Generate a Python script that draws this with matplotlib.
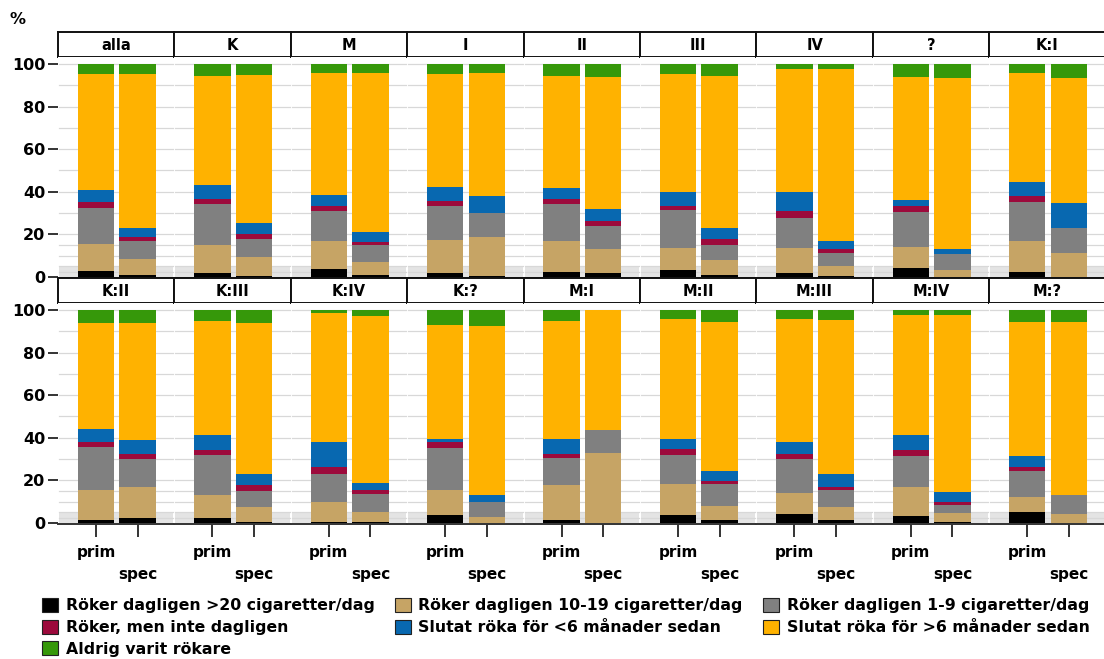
import matplotlib

matplotlib.use("Agg")
import matplotlib.pyplot as plt
import numpy as np
from matplotlib.patches import Patch

# ---------------------------------------------------------------------------
# Data (percent shares per bar, bottom to top)
# ---------------------------------------------------------------------------

panels = ["alla", "K", "M", "I", "II", "III", "IV", "?", "K:I",
          "K:II", "K:III", "K:IV", "K:?", "M:I", "M:II", "M:III", "M:IV", "M:?"]
groups = ["prim", "spec"]

categories = [
    "Röker dagligen >20 cigaretter/dag",
    "Röker dagligen 10-19 cigaretter/dag",
    "Röker dagligen 1-9 cigaretter/dag",
    "Röker, men inte dagligen",
    "Slutat röka för <6 månader sedan",
    "Slutat röka för >6 månader sedan",
    "Aldrig varit rökare",
]
colors = ["#000000", "#c6a465", "#808080", "#9c0a3c", "#0868b0", "#ffb200", "#36980a"]

# one row per panel: [prim, spec], each a list in category order
shares = {
    "alla":  [[2.8, 12.9, 16.9, 2.8, 5.6, 54.3, 4.7], [1.0, 7.5, 8.4, 1.9, 4.4, 72.1, 4.7]],
    "K":     [[1.9, 13.0, 19.3, 2.3, 6.6, 51.3, 5.6], [0.6, 8.8, 8.6, 2.4, 5.0, 69.3, 5.3]],
    "M":     [[3.8, 13.1, 14.1, 2.4, 5.3, 57.2, 4.1], [1.1, 6.0, 7.8, 1.6, 4.7, 74.7, 4.1]],
    "I":     [[2.0, 15.2, 16.0, 2.4, 6.7, 53.0, 4.7], [0.4, 18.4, 11.3, 0.0, 7.8, 57.7, 4.4]],
    "II":    [[2.4, 14.5, 17.3, 2.3, 5.5, 52.5, 5.5], [1.9, 11.0, 11.2, 2.1, 5.8, 62.0, 6.0]],
    "III":   [[3.1, 10.7, 17.5, 2.2, 6.2, 55.6, 4.7], [0.8, 7.0, 7.4, 2.4, 5.3, 71.5, 5.6]],
    "IV":    [[1.9, 11.9, 14.1, 3.0, 8.8, 57.9, 2.4], [0.6, 4.4, 6.4, 1.8, 3.7, 80.7, 2.4]],
    "?":     [[4.2, 9.9, 16.6, 2.7, 2.6, 57.7, 6.3], [0.2, 3.2, 7.3, 0.0, 2.5, 80.4, 6.4]],
    "K:I":   [[2.4, 14.5, 18.1, 2.9, 6.8, 50.9, 4.4], [0.0, 11.3, 11.6, 0.0, 11.9, 58.8, 6.4]],
    "K:II":  [[1.6, 13.9, 20.1, 2.4, 6.1, 49.9, 6.0], [2.4, 14.7, 12.9, 2.3, 6.8, 54.9, 6.0]],
    "K:III": [[2.4, 10.9, 18.7, 2.1, 7.3, 53.4, 5.2], [0.3, 7.4, 7.1, 2.8, 5.2, 70.9, 6.3]],
    "K:IV":  [[0.3, 9.4, 13.4, 3.1, 11.8, 60.4, 1.6], [0.3, 4.7, 8.7, 2.0, 3.1, 78.5, 2.7]],
    "K:?":   [[3.5, 12.0, 19.7, 2.8, 1.6, 53.6, 6.8], [0.0, 2.7, 7.0, 0.0, 3.5, 79.4, 7.4]],
    "M:I":   [[1.4, 16.2, 12.9, 1.7, 7.4, 55.4, 5.0], [0.0, 32.8, 11.0, 0.0, 0.0, 56.2, 0.0]],
    "M:II":  [[3.8, 14.6, 13.6, 2.5, 5.1, 56.0, 4.4], [1.6, 6.4, 10.1, 1.5, 5.0, 69.6, 5.8]],
    "M:III": [[4.2, 9.8, 16.1, 2.4, 5.5, 57.6, 4.4], [1.4, 6.0, 8.3, 1.1, 6.3, 72.2, 4.7]],
    "M:IV":  [[3.1, 13.7, 14.6, 3.0, 6.7, 56.5, 2.4], [0.3, 4.3, 3.9, 1.2, 4.7, 83.2, 2.4]],
    "M:?":   [[5.3, 6.8, 12.5, 1.9, 4.9, 63.1, 5.5], [0.0, 4.2, 8.7, 0.0, 0.0, 81.6, 5.5]],
}

y_ticks = [0, 20, 40, 60, 80, 100]

# ---------------------------------------------------------------------------
# Layout (pixel based)
# ---------------------------------------------------------------------------

W, H = 1104, 659
LEFT = 58
PANEL_W = 116.4
ROW_TOPS = [32, 278]
STRIP_H = 25
PLOT_H = 221


def _rect(x0: float, y_top: float, w: float, h: float) -> list[float]:
    return [x0 / W, 1 - (y_top + h) / H, w / W, h / H]


plt.rcParams["font.family"] = ["DejaVu Sans"]
fig = plt.figure(figsize=(W / 100, H / 100), dpi=100)

x = np.arange(len(groups))
for idx, name in enumerate(panels):
    row, col = divmod(idx, 9)
    x0 = LEFT + col * PANEL_W
    top = ROW_TOPS[row]

    # strip header
    strip = fig.add_axes(_rect(x0, top, PANEL_W, STRIP_H))
    strip.set_xticks([])
    strip.set_yticks([])
    for spine in strip.spines.values():
        spine.set_linewidth(1.4)
        spine.set_color("#111111")
    strip.text(0.5, 0.47, name, ha="center", va="center",
               fontsize=10.5, fontweight="bold")

    axis = fig.add_axes(_rect(x0, top + STRIP_H, PANEL_W, PLOT_H))
    axis.set_xlim(-0.911, 1.883)
    axis.set_ylim(-0.5, 103.3)

    # background grid with a light band near zero, broken at panel edges
    axis.axhspan(0, 5, xmin=0.008, xmax=0.992, color="#e4e4e4", lw=0, zorder=0)
    for level in [2.5, 5, 10, 15, 20, 30, 40, 50, 60, 70, 80, 90, 100]:
        axis.axhline(level, xmin=0.008, xmax=0.992, color="#d8d8d8", lw=0.9, zorder=0.5)

    values = np.array(shares[name])
    bottoms = np.zeros(len(groups))
    for cat_idx, color in enumerate(colors):
        axis.bar(x, values[:, cat_idx], bottom=bottoms, width=0.875,
                 color=color, lw=0, zorder=2)
        bottoms += values[:, cat_idx]

    for side in ("top", "right", "left"):
        axis.spines[side].set_visible(False)
    axis.spines["bottom"].set_color("#333333")
    axis.spines["bottom"].set_linewidth(1.4)

    if col == 0:
        axis.set_yticks(y_ticks)
        axis.set_yticklabels([str(t) for t in y_ticks], fontsize=11.5,
                             fontweight="bold")
        axis.tick_params(axis="y", length=7, width=1.4, color="#333333", pad=2)
    else:
        axis.set_yticks([])

    if row == 1:
        axis.set_xticks(x)
        axis.set_xticklabels([])
        axis.tick_params(axis="x", length=9, width=1.4, color="#333333")
        for xi, label, offset in zip(x, groups, [-28, -51]):
            axis.text(xi, offset / PLOT_H, label, transform=axis.get_xaxis_transform(),
                      ha="center", va="center", fontsize=11, fontweight="bold")
    else:
        axis.set_xticks([])

fig.text(17 / W, 1 - 20 / H, "%", ha="center", va="center",
         fontsize=11.5, fontweight="bold")

handles = [Patch(facecolor=c, edgecolor="#222222", linewidth=0.8) for c in colors]
order = [0, 3, 6, 1, 4, 2, 5]
fig.legend(
    [handles[i] for i in order],
    [categories[i] for i in order],
    loc="upper left",
    bbox_to_anchor=(42 / W, 1 - 598 / H),
    ncol=3,
    frameon=False,
    prop={"size": 11.3, "weight": "bold"},
    handlelength=1.0,
    handleheight=1.0,
    handletextpad=0.5,
    columnspacing=1.3,
    labelspacing=0.4,
    borderaxespad=0,
    borderpad=0,
)

fig.savefig("out.png", dpi=100)
